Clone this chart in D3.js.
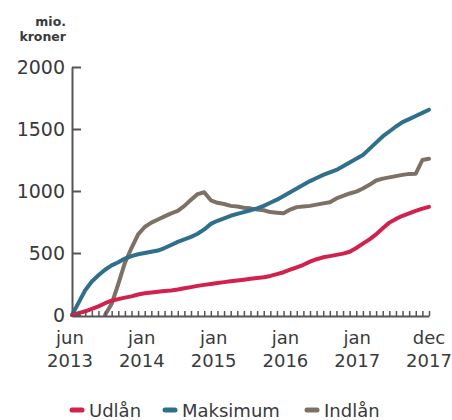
<!DOCTYPE html>
<html>
<head>
<meta charset="utf-8">
<script src="https://cdn.jsdelivr.net/npm/d3@7"></script>
<style>
  body { margin: 0; background: #fff; }
  text { font-family: "DejaVu Sans", sans-serif; fill: #3a3a3a; }
</style>
</head>
<body>
<svg id="chart"></svg>
<script>
// months from jun 2013 (0) to dec 2017 (54)
const months = d3.range(0, 55);

const udlaan = [0, 15, 30, 50, 70, 95, 115, 128, 140, 150, 165, 175, 182, 188, 193, 198, 205, 215, 225, 235,
  243, 250, 258, 265, 272, 278, 285, 292, 298, 305, 315, 330, 345, 365, 385, 405, 430, 450, 465, 475,
  485, 495, 510, 540, 575, 610, 650, 700, 745, 775, 800, 820, 840, 858, 872];

const maksimum = [0, 100, 200, 270, 320, 365, 400, 425, 455, 475, 490, 500, 510, 520, 540, 565, 590, 610, 630, 655,
  690, 735, 760, 780, 800, 815, 830, 845, 860, 880, 905, 930, 960, 990, 1020, 1050, 1080, 1105, 1130, 1150,
  1170, 1200, 1230, 1260, 1290, 1340, 1390, 1440, 1480, 1520, 1555, 1580, 1605, 1630, 1655];

// no deposits before nov 2013
const indlaan = [null, null, null, null, null, 0, 90, 250, 420, 540, 650, 710, 745, 770, 795, 820, 840, 880, 930, 975,
  990, 925, 905, 895, 880, 875, 865, 860, 850, 845, 830, 825, 820, 850, 870, 875, 880, 890, 900, 910,
  940, 960, 980, 995, 1020, 1050, 1085, 1100, 1110, 1120, 1130, 1138, 1140, 1250, 1260];

const xLabels = [['jun', '2013'], ['jan', '2014'], ['jan', '2015'], ['jan', '2016'], ['jan', '2017'], ['dec', '2017']];
const yTicks = [0, 500, 1000, 1500, 2000];

const series = [
  { name: 'Indlån', values: indlaan, color: '#7d7166' },
  { name: 'Maksimum', values: maksimum, color: '#2f6f8c' },
  { name: 'Udlån', values: udlaan, color: '#d3214e' }
];
const legendOrder = ['Udlån', 'Maksimum', 'Indlån'];

const width = 452, height = 420;
const margin = { top: 67, right: 23, bottom: 105, left: 72 };
const innerW = width - margin.left - margin.right;
const innerH = height - margin.top - margin.bottom;

const svg = d3.select('#chart')
  .attr('width', width)
  .attr('height', height);

const chart = svg.append('g')
  .attr('transform', `translate(${margin.left}, ${margin.top})`);

const xscale = d3.scaleLinear()
  .domain([0, 54])
  .range([0, innerW]);

const xlabelScale = d3.scalePoint()
  .domain(xLabels.map(d => d.join(' ')))
  .range([-2, innerW]);

const yscale = d3.scaleLinear()
  .domain([0, 2000])
  .range([innerH, 0]);

// y axis
const yaxis = d3.axisRight(yscale)
  .tickValues(yTicks)
  .tickSize(9)
  .tickSizeOuter(0)
  .tickFormat('');

const yaxisGroup = chart.append('g').call(yaxis);
yaxisGroup.select('.domain').attr('stroke', '#555').attr('stroke-width', 2);
yaxisGroup.selectAll('.tick line').attr('stroke', '#555').attr('stroke-width', 2);

chart.selectAll('.ylabel')
  .data(yTicks)
  .join('text')
  .attr('class', 'ylabel')
  .attr('x', -7)
  .attr('y', d => yscale(d))
  .attr('dy', '0.36em')
  .attr('text-anchor', 'end')
  .style('font-size', '19px')
  .text(d => d);

// unit label
svg.append('text')
  .attr('x', 66).attr('y', 26)
  .attr('text-anchor', 'end')
  .style('font-size', '12.5px')
  .style('font-weight', 'bold')
  .text('mio.');
svg.append('text')
  .attr('x', 66).attr('y', 41)
  .attr('text-anchor', 'end')
  .style('font-size', '12.5px')
  .style('font-weight', 'bold')
  .text('kroner');

// lines
const line = d3.line()
  .defined(d => d !== null)
  .x((d, i) => xscale(months[i]))
  .y(d => yscale(d));

chart.selectAll('.series')
  .data(series)
  .join('path')
  .attr('class', 'series')
  .attr('d', d => line(d.values))
  .attr('fill', 'none')
  .attr('stroke', d => d.color)
  .attr('stroke-width', 4)
  .attr('stroke-linejoin', 'round')
  .attr('stroke-linecap', 'round');

// x axis with monthly ticks pointing up
const xaxis = d3.axisTop(xscale)
  .tickValues(months)
  .tickSize(5)
  .tickSizeOuter(0)
  .tickFormat('');

const xaxisGroup = chart.append('g')
  .attr('transform', `translate(0, ${innerH + 1})`)
  .call(xaxis);
xaxisGroup.select('.domain').attr('stroke', '#555').attr('stroke-width', 2);
xaxisGroup.selectAll('.tick line').attr('stroke', '#555').attr('stroke-width', 1.5);

const xl = chart.selectAll('.xlabel')
  .data(xLabels)
  .join('text')
  .attr('class', 'xlabel')
  .attr('text-anchor', 'middle')
  .attr('transform', d => `translate(${xlabelScale(d.join(' '))}, ${innerH + 29})`)
  .style('font-size', '18px');
xl.append('tspan').attr('x', 0).attr('y', 0).text(d => d[0]);
xl.append('tspan').attr('x', 0).attr('y', 23).text(d => d[1]);

// legend
const legendX = [70, 163, 305];
const legend = svg.selectAll('.legend')
  .data(legendOrder)
  .join('g')
  .attr('class', 'legend')
  .attr('transform', (d, i) => `translate(${legendX[i]}, 410)`);

legend.append('line')
  .attr('x1', 2).attr('x2', 12)
  .attr('y1', 0).attr('y2', 0)
  .attr('stroke', d => series.find(s => s.name === d).color)
  .attr('stroke-width', 5)
  .attr('stroke-linecap', 'round');

legend.append('text')
  .attr('x', 19)
  .attr('y', 7)
  .style('font-size', '18px')
  .text(d => d);
</script>
</body>
</html>
